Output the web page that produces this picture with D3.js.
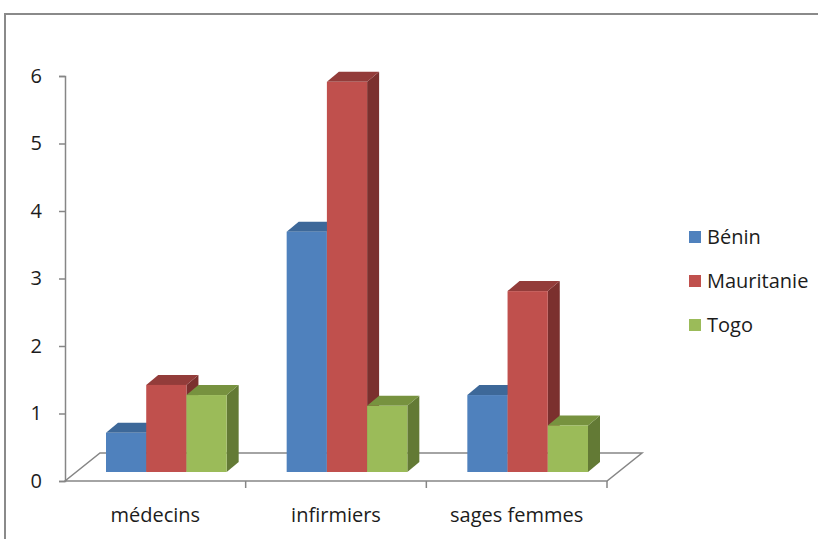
<!DOCTYPE html>
<html>
<head>
<meta charset="utf-8">
<script src="https://cdn.jsdelivr.net/npm/d3@7/dist/d3.min.js"></script>
<style>
  html, body { margin: 0; padding: 0; background: #fff; }
  svg { display: block; font-family: "Open Sans", sans-serif; }
</style>
</head>
<body>
<svg id="chart" width="818" height="539"></svg>
<script>
// ---- data ----
const categories = ["médecins", "infirmiers", "sages femmes"];
const seriesNames = ["Bénin", "Mauritanie", "Togo"];
const benin      = [0.58, 3.56, 1.14];
const mauritanie = [1.29, 5.78, 2.68];
const togo       = [1.14, 0.98, 0.69];
const yTicks = [0, 1, 2, 3, 4, 5, 6];

const seriesValues = [benin, mauritanie, togo];
const colors = {
  "Bénin":      { front: "#4F81BD", top: "#3D6899", side: "#34587F" },
  "Mauritanie": { front: "#C0504D", top: "#933C3A", side: "#7B302E" },
  "Togo":       { front: "#9BBB59", top: "#77923F", side: "#637A35" }
};

const svg = d3.select("#chart");

// frame
svg.append("path")
  .attr("d", "M5,539 V14 H818")
  .attr("fill", "none")
  .attr("stroke", "#8a8a8a")
  .attr("stroke-width", 2);

// scales
const x0 = 65, x1 = 607;
const y = d3.scaleLinear().domain([0, 6]).range([481, 76]);
const xCat = d3.scaleBand().domain(categories).range([x0, x1]).paddingInner(0).paddingOuter(0);
const xSer = d3.scaleBand().domain(seriesNames).range([30, xCat.bandwidth() - 30]).padding(0);

const floorDepth = { x: 35, y: -28 };
const frontOff = { x: 11, y: -9 };
const barDepth = { x: 12, y: -10 };

const axisColor = "#868686";
const textColor = "#1c1c1c";
const fontSize = 20;

// floor (x-axis plane)
const yb0 = y(0);
svg.append("path")
  .attr("d", `M${x0},${yb0} L${x1},${yb0} L${x1 + floorDepth.x},${yb0 + floorDepth.y} L${x0 + floorDepth.x},${yb0 + floorDepth.y} Z`)
  .attr("fill", "none")
  .attr("stroke", axisColor)
  .attr("stroke-width", 1.5);

// category ticks
svg.append("g").selectAll("line")
  .data(categories.slice(1).concat(["__end"]))
  .join("line")
  .attr("x1", d => d === "__end" ? x1 : xCat(d))
  .attr("x2", d => d === "__end" ? x1 : xCat(d))
  .attr("y1", yb0)
  .attr("y2", yb0 + 7)
  .attr("stroke", axisColor)
  .attr("stroke-width", 1.5);

// y axis
const yAxis = d3.axisLeft(y).tickValues(yTicks).tickSize(6).tickPadding(17).tickFormat(d3.format("d"));
const gy = svg.append("g").attr("transform", `translate(${x0},0)`).call(yAxis);
gy.select(".domain").attr("stroke", axisColor).attr("stroke-width", 1.5);
gy.selectAll(".tick line").attr("stroke", axisColor).attr("stroke-width", 1.5);
gy.selectAll(".tick text")
  .attr("font-family", "Open Sans, sans-serif")
  .attr("font-size", fontSize)
  .attr("fill", textColor);

// bars
const bars = [];
categories.forEach((c, ci) => {
  seriesNames.forEach((s, si) => {
    bars.push({ cat: c, ser: s, value: seriesValues[si][ci] });
  });
});

const gb = svg.append("g");
bars.forEach(b => {
  const bx = xCat(b.cat) + xSer(b.ser) + frontOff.x;
  const w = xSer.bandwidth();
  const yt = y(b.value) + frontOff.y;
  const ybot = y(0) + frontOff.y;
  const col = colors[b.ser];
  const g = gb.append("g");
  // side
  g.append("path")
    .attr("d", `M${bx + w},${yt} L${bx + w + barDepth.x},${yt + barDepth.y} L${bx + w + barDepth.x},${ybot + barDepth.y} L${bx + w},${ybot} Z`)
    .attr("fill", col.side);
  // top
  g.append("path")
    .attr("d", `M${bx},${yt} L${bx + barDepth.x},${yt + barDepth.y} L${bx + w + barDepth.x},${yt + barDepth.y} L${bx + w},${yt} Z`)
    .attr("fill", col.top);
  // front
  g.append("rect")
    .attr("x", bx).attr("y", yt)
    .attr("width", w).attr("height", ybot - yt)
    .attr("fill", col.front);
});

// category labels
svg.append("g").selectAll("text")
  .data(categories)
  .join("text")
  .attr("x", d => xCat(d) + xCat.bandwidth() / 2)
  .attr("y", 522)
  .attr("text-anchor", "middle")
  .attr("font-size", fontSize)
  .attr("fill", textColor)
  .text(d => d);

// legend
const legendY = [237, 281, 325];
const lg = svg.append("g");
seriesNames.forEach((s, i) => {
  lg.append("rect")
    .attr("x", 689).attr("y", legendY[i] - 6)
    .attr("width", 12).attr("height", 12)
    .attr("fill", colors[s].front);
  lg.append("text")
    .attr("x", 707).attr("y", legendY[i] + 7)
    .attr("font-size", fontSize)
    .attr("fill", textColor)
    .text(s);
});
</script>
</body>
</html>
